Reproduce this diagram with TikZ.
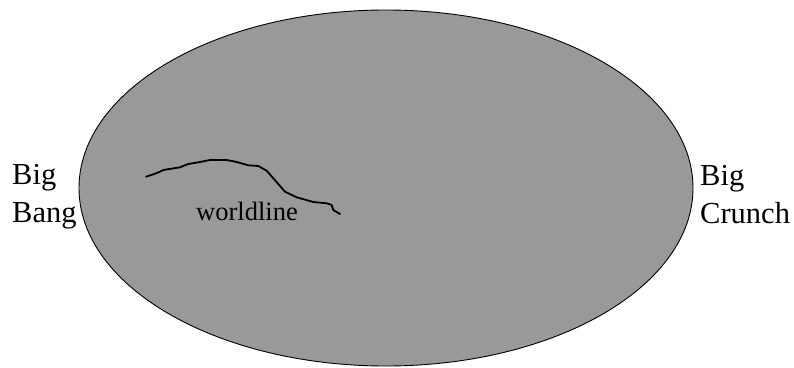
\documentclass[tikz,border=0pt]{standalone}
\usepackage{fontspec}
\setmainfont{Liberation Serif}
\usetikzlibrary{shapes.geometric}
\definecolor{regiongray}{RGB}{153,153,153}
\begin{document}
\begin{tikzpicture}[x=1pt,y=-1pt,
  lbl/.style={inner sep=0pt,font=\fontsize{30.5}{38}\selectfont,align=left},
  wl/.style={line width=1.8pt,line join=round,line cap=round}]
\useasboundingbox (0,0) rectangle (794,367);
\node[draw,line width=0.9pt,fill=regiongray,ellipse,minimum width=614pt,minimum height=356pt,inner sep=0pt] (universe) at (386,188) {};
\node[lbl,anchor=west] (bang) at (12,197) {Big\\Bang};
\node[lbl,anchor=west] (crunch) at (700,195) {Big\\Crunch};
\coordinate (w0) at (146,176.7);
\draw[wl] (w0) -- (153.3,174.3) -- (160,171.7) -- (163.3,170) -- (180,167.3) -- (188.3,164) -- (200,162) -- (210,160) -- (226.7,160) -- (236.7,162) -- (248.3,165.3) -- (258.3,166) -- (266.7,170.7) -- (273.3,178.3) -- (285,191.7) -- (296.7,197.3) -- (313.3,202) -- (326.7,203.3) -- (331.7,205) -- (333.3,210) -- (340,214);
\node[inner sep=0pt,font=\fontsize{26.5}{30}\selectfont] (wlabel) at (247,211) {worldline};
\end{tikzpicture}
\end{document}
